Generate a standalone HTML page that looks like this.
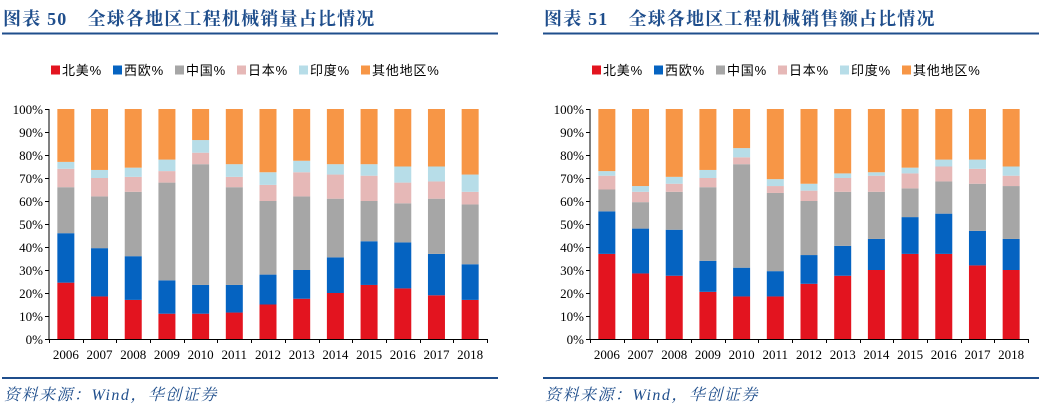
<!DOCTYPE html>
<html><head><meta charset="utf-8"><style>
body{margin:0;background:#fff;width:1063px;height:409px;overflow:hidden;font-family:"Liberation Serif","Noto Serif CJK SC",serif;}
svg{position:absolute;left:0;top:0}
</style></head><body>
<svg id="s" width="1063" height="409"></svg>
<script>
const years=['2006','2007','2008','2009','2010','2011','2012','2013','2014','2015','2016','2017','2018'];
const seriesNames=['北美%','西欧%','中国%','日本%','印度%','其他地区%'];
const colors=['#e3141f','#0563c1','#a6a6a6','#e6b8b7','#b7dde8','#f79646'];
// chart 50 (sales volume) cumulative tops per series
const vNA=[24.5,18.5,17,11,11,11.5,15,17.5,20,23.5,22,19,17];
const vWE=[46,39.5,36,25.5,23.5,23.5,28,30,35.5,42.5,42,37,32.5];
const vCN=[66,62,64,68,76,66,60,62,61,60,59,61,58.5];
const vJP=[74,70,70.5,73,81,70.5,67,72.5,71.5,71,68,68.5,64];
const vIN=[77,73.5,74.5,78,86.5,76,72.5,77.5,76,76,75,75,71.5];
// chart 51 (sales value) cumulative tops
const sNA=[37,28.5,27.5,20.5,18.5,18.5,24,27.5,30,37,37,32,30];
const sWE=[55.5,48,47.5,34,31,29.5,36.5,40.5,43.5,53,54.5,47,43.5];
const sCN=[65,59.5,64,66,76,63.5,60,64,64,65.5,68.5,67.5,66.5];
const sJP=[71,64,67.5,70,79,66.5,64.5,70,71,72,75,74,71];
const sIN=[73,66.5,70.5,73.5,83,69.5,67.5,72,72.5,74.5,78,78,75];
const ticks=[0,10,20,30,40,50,60,70,80,90,100];
const NS='http://www.w3.org/2000/svg';
const svg=document.getElementById('s');
function mk(tag,attrs,parent,text){const e=document.createElementNS(NS,tag);for(const k in attrs)e.setAttribute(k,attrs[k]);if(text!==undefined)e.textContent=text;(parent||svg).appendChild(e);return e;}
function chart(ox,num,title,cum,id){
  const g=mk('g',{});
  
  
  const t=mk('text',{x:ox+3,y:25,'font-size':18,'font-weight':'bold',fill:'#1f4e8c','letter-spacing':1.2},g);
  
  
  mk('tspan',{},t,'图表 '+num);
  mk('tspan',{dx:20},t,title);
  const l1=mk('rect',{x:ox+2,y:32.5,width:496,height:2,fill:'#1f4e8c'},g);
  
  
  const lx=[ox+51,ox+113,ox+175,ox+237,ox+299,ox+361];
  seriesNames.forEach((n,i)=>{
    const lg=mk('g',{},g);
    
    
    mk('rect',{x:lx[i],y:65.5,width:9,height:9,fill:colors[i]},lg);
    mk('text',{x:lx[i]+11,y:75,'font-size':13,fill:'#000','letter-spacing':0.8,'font-family':'"Liberation Sans","Noto Sans CJK SC",sans-serif'},lg,n);
  });
  const x0=ox+49,x1=ox+487,yb=339,yt=109;
  const ys=v=>yb-(yb-yt)*v/100;
  const cw=(x1-x0)/years.length,bw=17;
  years.forEach((yr,i)=>{
    const cx=x0+cw*(i+0.5);
    let prev=0;
    for(let s=0;s<6;s++){
      const top=s<5?cum[s][i]:100;
      const r=mk('rect',{x:cx-bw/2,y:ys(top),width:bw,height:ys(prev)-ys(top),fill:colors[s]},g);
      
      
      prev=top;
    }
    const xl=mk('text',{x:cx,y:359,'font-size':13,'text-anchor':'middle'},g,yr);
    
    
  });
  mk('line',{x1:x0,y1:yt,x2:x0,y2:yb,stroke:'#000'},g);
  mk('line',{x1:x0,y1:yb+0.5,x2:x1,y2:yb+0.5,stroke:'#000'},g);
  for(let i=0;i<=years.length;i++){const x=Math.round(x0+cw*i)+0.5;mk('line',{x1:x,y1:yb,x2:x,y2:yb+4,stroke:'#000'},g);}
  ticks.forEach(v=>{
    const y=Math.round(ys(v))+0.5;
    mk('line',{x1:x0-4,y1:y,x2:x0,y2:y,stroke:'#000'},g);
    const tl=mk('text',{x:x0-6,y:y+4.5,'font-size':13,'text-anchor':'end'},g,v+'%');
    
    
  });
  const l2=mk('rect',{x:ox+2,y:377,width:496,height:2,fill:'#1f4e8c'},g);
  
  
  const src=mk('text',{x:ox+4,y:400,'font-size':16,'font-style':'italic',fill:'#1f4e8c','letter-spacing':1.5},g,'资料来源：Wind，华创证券');
  
  
}
chart(0,'50','全球各地区工程机械销量占比情况',[vNA,vWE,vCN,vJP,vIN],'chart-sales-volume');
chart(541,'51','全球各地区工程机械销售额占比情况',[sNA,sWE,sCN,sJP,sIN],'chart-sales-value');
</script>
</body></html>
